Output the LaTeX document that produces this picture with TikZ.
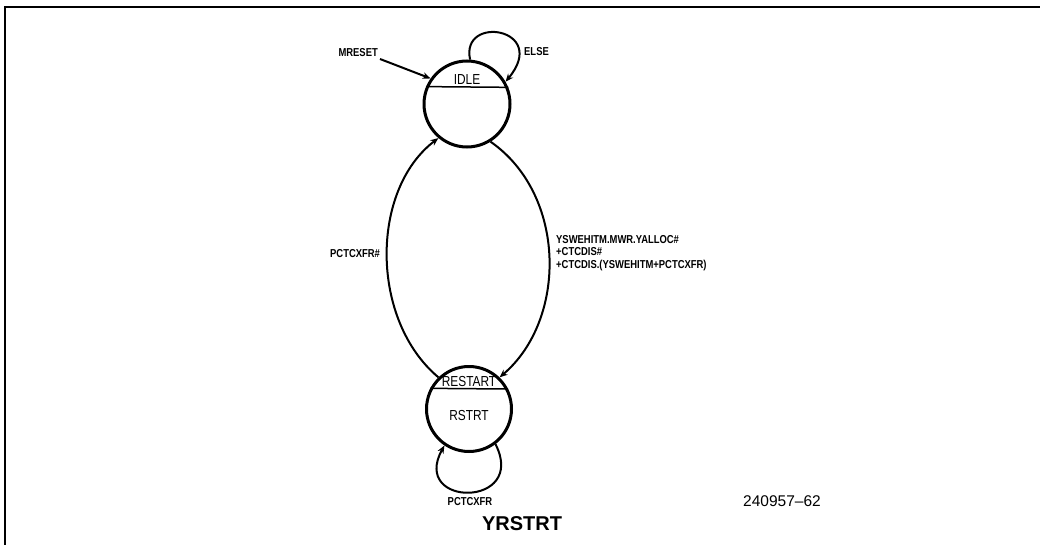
\documentclass[tikz,border=0pt]{standalone}
\usepackage{fontspec}
\setmainfont{Liberation Sans}
\newfontfamily\condfont[FakeStretch=0.82]{Liberation Sans}
\usetikzlibrary{arrows.meta, positioning, calc}
\tikzset{
  % state circles
  state/.style={
    draw, circle, line width=3pt, minimum size=86pt, inner sep=0pt,
  },
  % text inside a state
  statetext/.style={font=\condfont\fontsize{14.5}{16}\selectfont, inner sep=0pt},
  % chord separating the state name
  chord/.style={line width=1.5pt},
  % transitions
  trans/.style={-{Stealth[length=8pt, width=6.5pt]}, line width=2pt},
  % condition labels
  cond/.style={font=\condfont\bfseries\fontsize{11.5}{12.8}\selectfont,
               align=left, inner sep=0pt},
}
\begin{document}
\begin{tikzpicture}[x=1pt, y=-1pt]
\useasboundingbox (0,0) rectangle (1040,545);

% frame
\draw[line width=1.4pt] (1040,7) -- (5,7) -- (5,545);

% ====================================================================
% States
% ====================================================================
\node[state] (idle) at (467,104) {};
\draw[chord] (idle.157.3) -- (idle.22.7);
\node[statetext] (idlename) at ([yshift=24pt] idle.center) {IDLE};

\node[state, minimum size=85pt] (rst) at (469,409) {};
\draw[chord] (rst.152.3) -- (rst.27.7);
\node[statetext] (rstname) at ([yshift=27pt] rst.center) {RESTART};
\node[statetext] (rstout) at ([yshift=-7pt] rst.center) {RSTRT};

% ====================================================================
% Transitions
% ====================================================================
\node[cond, anchor=east] (mreset) at (378,53) {MRESET};
\draw[trans] (mreset.east) ++(2pt,-6pt) coordinate (mresetend)
  -- (idle.145);

\draw[trans] (idle.86) .. controls (460,14) and (550,28) .. (idle.30);
\node[cond, anchor=west] (else) at (524,52) {ELSE};

\draw[trans] (idle.-58) .. controls (567,195) and (567,320) .. (rst.46);
\node[cond, anchor=west] (golbl) at (556,253)
  {YSWEHITM.MWR.YALLOC\#\\+CTCDIS\#\\+CTCDIS.(YSWEHITM+PCTCXFR)};

\draw[trans] (rst.134) .. controls (370,320) and (370,190) .. (idle.230);
\node[cond, anchor=west] (backlbl) at (330,254) {PCTCXFR\#};

\draw[trans] (rst.-53) .. controls (528,508) and (410,508) .. (rst.-124);
\node[cond] (looplbl) at (470,502) {PCTCXFR};

% ====================================================================
% Captions
% ====================================================================
\node[font=\bfseries\fontsize{20}{24}\selectfont, inner sep=0pt]
  (title) at (522,524) {YRSTRT};
\node[font=\fontsize{15.5}{18}\selectfont, inner sep=0pt]
  (figno) at (782,501) {240957–62};

\end{tikzpicture}
\end{document}
